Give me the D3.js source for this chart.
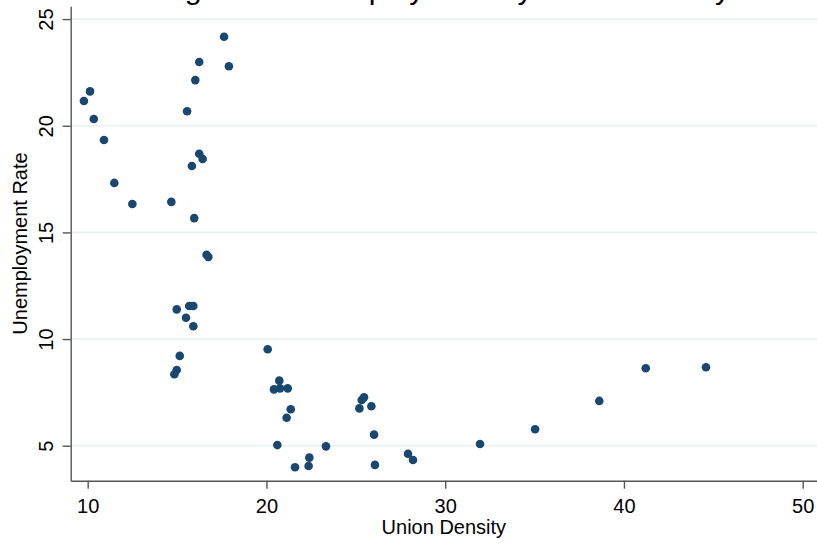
<!DOCTYPE html>
<html>
<head>
<meta charset="utf-8">
<script src="https://cdn.jsdelivr.net/npm/d3@7"></script>
<style>
  body { margin: 0; background: #fff; }
  svg { display: block; font-family: "Liberation Sans", Arial, sans-serif; }
</style>
</head>
<body>
<div id="chart"></div>
<script>
// union density (x) and unemployment rate (y)
const unionDensity = [
  17.63, 16.24, 17.90, 16.02, 10.13, 9.79, 15.56, 10.34, 10.91, 16.24,
  16.43, 15.83, 11.49, 12.50, 14.68, 15.96, 16.65, 16.75, 14.98, 15.68,
  15.91, 15.50, 15.91, 15.15, 14.98, 14.85, 20.07, 20.42, 20.72, 20.76,
  21.19, 21.36, 21.13, 20.61, 21.60, 22.40, 22.36, 23.33, 25.20, 25.33,
  25.46, 25.87, 26.02, 26.07, 27.92, 28.20, 31.95, 35.03, 38.62, 41.22,
  44.59
];
const unemploymentRate = [
  24.17, 22.99, 22.79, 22.14, 21.61, 21.16, 20.68, 20.32, 19.33, 18.69,
  18.44, 18.11, 17.32, 16.33, 16.43, 15.67, 13.95, 13.85, 11.39, 11.55,
  11.55, 11.00, 10.60, 9.21, 8.55, 8.35, 9.52, 7.64, 8.05, 7.69,
  7.69, 6.71, 6.31, 5.03, 3.99, 4.44, 4.05, 4.97, 6.75, 7.14,
  7.27, 6.85, 5.52, 4.10, 4.62, 4.33, 5.08, 5.77, 7.10, 8.63,
  8.68
];
const xTicks = [10, 20, 30, 40, 50];
const yTicks = [5, 10, 15, 20, 25];

const titleText = 'Long-Term Unemployment by Union Density';
const xTitle = 'Union Density';
const yTitle = 'Unemployment Rate';

const width = 817, height = 544;
const plot = { left: 70.7, right: 817, top: 6.3, bottom: 480.7 };

const svg = d3.select('#chart').append('svg')
  .attr('width', width)
  .attr('height', height);

const x = d3.scaleLinear().domain([9.05, 50.8]).range([plot.left, plot.right]);
const y = d3.scaleLinear().domain([3.36, 25.6]).range([plot.bottom, plot.top]);

// title (mostly outside the picture, only descenders show)
svg.append('text')
  .attr('x', 134)
  .attr('y', -1.5)
  .attr('font-size', 30.4)
  .attr('fill', '#000')
  .text(titleText);

// gridlines
svg.append('g')
  .selectAll('line')
  .data(yTicks)
  .join('line')
  .attr('x1', plot.left)
  .attr('x2', plot.right)
  .attr('y1', d => y(d))
  .attr('y2', d => y(d))
  .attr('stroke', '#e8f0f1')
  .attr('stroke-width', 1.6);

// x axis
const gx = svg.append('g')
  .attr('transform', `translate(0,${plot.bottom})`)
  .call(d3.axisBottom(x).tickValues(xTicks).tickSize(8).tickSizeOuter(0).tickPadding(10));
gx.selectAll('text').attr('font-size', 20).attr('fill', '#000');

// y axis
const gy = svg.append('g')
  .attr('transform', `translate(${plot.left},0)`)
  .call(d3.axisLeft(y).tickValues(yTicks).tickSize(8).tickSizeOuter(0));
gy.selectAll('text')
  .attr('font-size', 20)
  .attr('fill', '#000')
  .attr('x', 0)
  .attr('dy', 0)
  .attr('text-anchor', 'middle')
  .attr('transform', 'translate(-18,0) rotate(-90)');

[gx, gy].forEach(g => {
  g.attr('font-family', null).attr('font-size', null);
  g.select('.domain').attr('stroke', '#555').attr('stroke-width', 1.4);
  g.selectAll('.tick line').attr('stroke', '#555').attr('stroke-width', 1.4);
});

// axis titles
svg.append('text')
  .attr('x', (plot.left + plot.right) / 2)
  .attr('y', 534)
  .attr('text-anchor', 'middle')
  .attr('font-size', 20)
  .text(xTitle);

svg.append('text')
  .attr('transform', `translate(27,${(plot.top + plot.bottom) / 2}) rotate(-90)`)
  .attr('text-anchor', 'middle')
  .attr('font-size', 20)
  .text(yTitle);

// points
svg.append('g')
  .selectAll('circle')
  .data(unionDensity.map((d, i) => [d, unemploymentRate[i]]))
  .join('circle')
  .attr('cx', d => x(d[0]))
  .attr('cy', d => y(d[1]))
  .attr('r', 4.3)
  .attr('fill', '#1a476f');
</script>
</body>
</html>
